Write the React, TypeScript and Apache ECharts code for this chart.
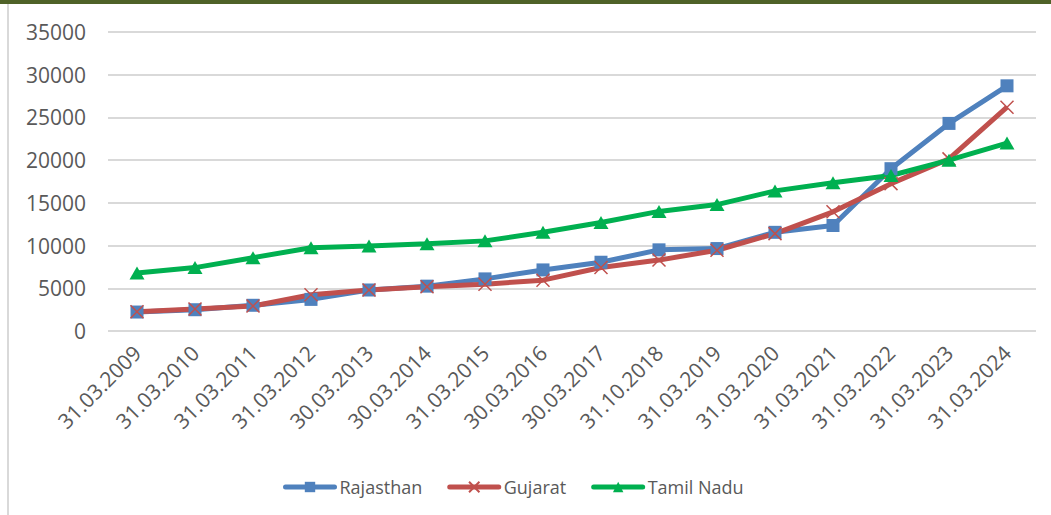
import React, { useEffect, useRef } from "react";
import * as echarts from "echarts";

const categories = [
  "31.03.2009", "31.03.2010", "31.03.2011", "31.03.2012", "30.03.2013", "30.03.2014",
  "31.03.2015", "30.03.2016", "30.03.2017", "31.10.2018", "31.03.2019", "31.03.2020",
  "31.03.2021", "31.03.2022", "31.03.2023", "31.03.2024",
];
const rajasthan = [2220, 2490, 3010, 3700, 4800, 5250, 6100, 7150, 8050, 9500, 9650, 11550, 12350, 19000, 24300, 28700];
const gujarat = [2250, 2570, 2920, 4250, 4800, 5170, 5480, 5950, 7430, 8300, 9450, 11400, 13950, 17250, 20150, 26200];
const tamilNadu = [6780, 7420, 8580, 9750, 9950, 10200, 10550, 11550, 12700, 14000, 14800, 16400, 17350, 18200, 20000, 22000];
const yTicks = { min: 0, max: 35000, interval: 5000 };

const FONT = "'Open Sans', 'Liberation Sans', sans-serif";
const CROSS = "path://M0,0L10,10M10,0L0,10";

export default function App() {
  const ref = useRef<HTMLDivElement>(null);
  useEffect(() => {
    const chart = echarts.init(ref.current!, null, { renderer: "svg" });
    const mk = (name: string, data: number[], color: string, symbol: string, size: any, extra: any = {}) => ({
      name,
      type: "line",
      data,
      symbol,
      symbolSize: size,
      lineStyle: { color, width: 5 },
      itemStyle: { color, ...extra },
      emphasis: { disabled: true },
    });
    chart.setOption({
      animation: false,
      backgroundColor: "#ffffff",
      textStyle: { fontFamily: FONT },
      graphic: [
        { type: "rect", shape: { x: 0, y: 0, width: 1051, height: 4 }, style: { fill: "#4F6228" }, silent: true },
        { type: "rect", shape: { x: 7, y: 4, width: 2, height: 511 }, style: { fill: "#D9D9D9" }, silent: true },
      ],
      grid: { left: 108, right: 15, top: 32, bottom: 184, containLabel: false },
      xAxis: {
        type: "category",
        data: categories,
        boundaryGap: true,
        axisLine: { show: false },
        axisTick: { show: false },
        axisLabel: { rotate: 45, fontSize: 21, color: "#595959", margin: 18, fontFamily: FONT, interval: 0 },
      },
      yAxis: {
        type: "value",
        min: yTicks.min,
        max: yTicks.max,
        interval: yTicks.interval,
        axisLine: { show: false },
        axisTick: { show: false },
        axisLabel: { fontSize: 21, color: "#595959", margin: 22, fontFamily: FONT, formatter: (v: number) => String(v) },
        splitLine: { lineStyle: { color: "#D9D9D9", width: 2 } },
      },
      legend: {
        bottom: 14,
        left: 278,
        itemWidth: 49,
        itemHeight: 13,
        itemGap: 25,
        lineStyle: { width: 5, cap: "round" },
        textStyle: { fontSize: 18, color: "#595959", fontFamily: FONT, padding: [0, 0, 0, 0] },
        data: ["Rajasthan", "Gujarat", "Tamil Nadu"],
      },
      series: [
        mk("Rajasthan", rajasthan, "#4F81BD", "rect", 13),
        mk("Gujarat", gujarat, "#C0504D", CROSS, 13, { borderColor: "#C0504D", borderWidth: 1.5 }),
        mk("Tamil Nadu", tamilNadu, "#00B050", "triangle", [15, 13]),
      ],
    });
    return () => chart.dispose();
  }, []);
  return <div ref={ref} style={{ position: "fixed", left: 0, top: 0, width: 1051, height: 515 }} />;
}
